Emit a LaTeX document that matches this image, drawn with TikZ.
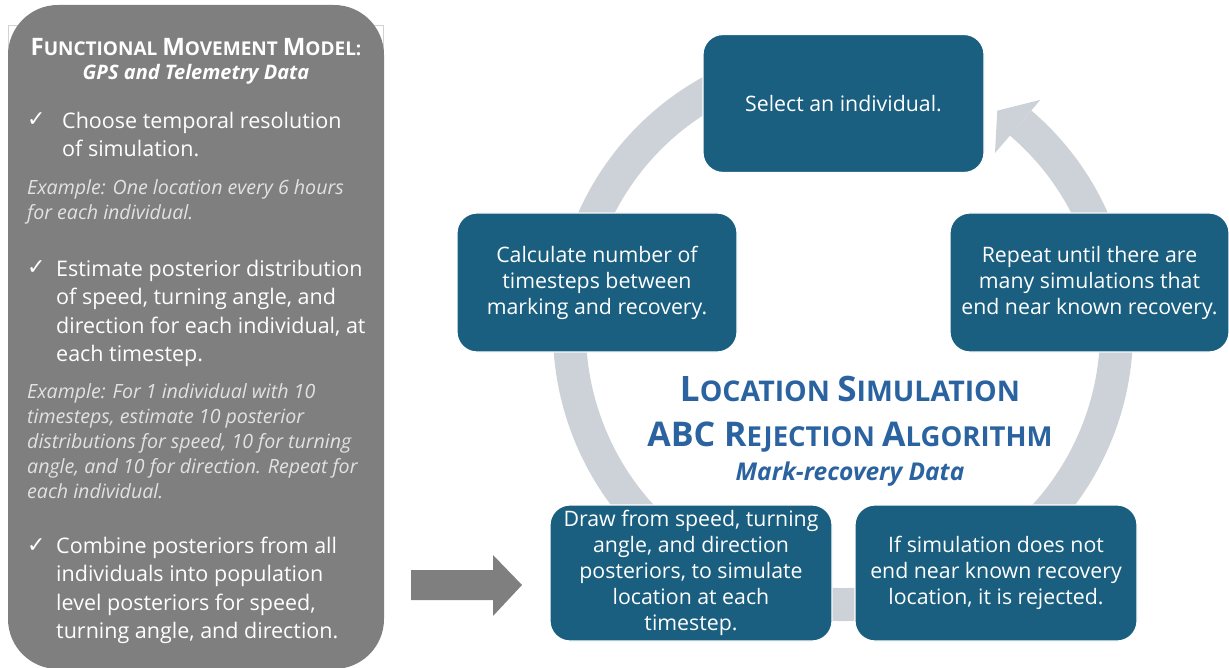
\documentclass[tikz,border=0pt]{standalone}
\usepackage{fontspec}
\setmainfont{Open Sans}
\newfontfamily\symfont{DejaVu Sans}
\usetikzlibrary{positioning}

\definecolor{panelgray}{HTML}{7F7F7F}
\definecolor{ringgray}{HTML}{CDD2D8}
\definecolor{stepblue}{HTML}{1A5F80}
\definecolor{titleblue}{HTML}{2A63A0}
\definecolor{examplegray}{HTML}{E2E2E2}

% big first letter, smaller capitals after it
\newcommand{\scword}[4]{{\fontsize{#1}{#1}\selectfont #3}{\fontsize{#2}{#2}\selectfont #4}}
\newcommand{\tick}{{\symfont\fontsize{22}{22}\selectfont ✓}}

\tikzset{
  stepbox/.style={draw=white, line width=1.2pt, fill=stepblue, rounded corners=20pt,
    text=white, align=center, inner sep=0pt, font=\fontsize{21.3}{26}\selectfont},
  % a strut fixes the first baseline 20pt below the node's top
  item/.style={anchor=north west, inner sep=0pt, align=left, text=white,
    font=\fontsize{21.5}{28.3}\selectfont, execute at begin node={\rule{0pt}{20pt}}},
  example/.style={anchor=north west, inner sep=0pt, align=left, text=examplegray,
    font=\fontsize{19.6}{25.2}\selectfont\itshape, execute at begin node={\rule{0pt}{18pt}}},
  checkmark/.style={anchor=base west, inner sep=0pt, text=white},
  ring/.style={draw=ringgray, line width=33pt},
  heading/.style={text=titleblue, inner sep=0pt, font=\fontsize{28}{28}\selectfont\bfseries},
}

\begin{document}
\begin{tikzpicture}[x=1pt, y=-1pt]
  \useasboundingbox (0,0) rectangle (1229,668);

  % left panel: the movement model
  \draw[gray!35, line width=0.8pt] (8,60) -- (8,25) -- (383,25) -- (383,60);
  \fill[panelgray, rounded corners=50pt] (8,5) rectangle (384,669);

  \node[text=white, inner sep=0pt, font=\fontsize{19}{19}\selectfont\bfseries] (fmm) at (196,47)
    {\scword{24}{19}{F}{UNCTIONAL} \scword{24}{19}{M}{OVEMENT} \scword{24}{19}{M}{ODEL:}};
  \node[text=white, inner sep=0pt, font=\fontsize{20}{20}\selectfont\bfseries\itshape] (gps) at (196,74)
    {GPS and Telemetry Data};

  \node[checkmark] (tick1) at (27,127) {\tick};
  \node[item] (res) at (62,112) {Choose temporal resolution\\of simulation.};
  \node[example] (ex1) at (27,179) {Example: One location every 6 hours\\for each individual.};

  \node[checkmark] (tick2) at (27,275) {\tick};
  \node[item] (post) at (56,260) {Estimate posterior distribution\\of speed, turning angle, and\\direction for each individual, at\\each timestep.};
  \node[example] (ex2) at (27,383) {Example: For 1 individual with 10\\timesteps, estimate 10 posterior\\distributions for speed, 10 for turning\\angle, and 10 for direction. Repeat for\\each individual.};

  \node[checkmark] (tick3) at (27,552) {\tick};
  \node[item] (comb) at (56,537) {Combine posteriors from all\\individuals into population\\level posteriors for speed,\\turning angle, and direction.};

  % block arrow into the cycle
  \fill[panelgray] (411,570) -- (493,570) -- (493,555) -- (522,585)
    -- (493,616) -- (493,600) -- (411,600) -- cycle;

  % cycle ring with its one arrow head
  \coordinate (hub) at (843,331);
  \draw[ring] ([shift={(-62:273.5)}]hub) arc[start angle=-62, end angle=-409.5, radius=273.5];
  \fill[ringgray] ([shift={(-55:269)}]hub) -- ([shift={(-49.5:304)}]hub)
    -- ([shift={(-49.5:234)}]hub) -- cycle;

  % steps
  \node[stepbox, minimum width=281pt, minimum height=138pt] (select) at (843.5,103.5)
    {Select an individual.};
  \node[stepbox, minimum width=280pt, minimum height=139pt] (count) at (597,282.5)
    {Calculate number of\\timesteps between\\marking and recovery.};
  \node[stepbox, minimum width=279pt, minimum height=139pt] (repeat) at (1089.5,282.5)
    {Repeat until there are\\many simulations that\\end near known recovery.};
  \node[stepbox, minimum width=282pt, minimum height=136pt] (sim) at (691,573)
    {Draw from speed, turning\\angle, and direction\\posteriors, to simulate\\location at each\\timestep.};
  \node[stepbox, minimum width=282pt, minimum height=136pt] (reject) at (996,573)
    {If simulation does not\\end near known recovery\\location, it is rejected.};

  % titles inside the ring
  \node[heading] (loc) at (850,389)
    {\scword{35}{28.5}{L}{OCATION} \scword{35}{28.5}{S}{IMULATION}};
  \node[heading] (abc) at (850,437)
    {\scword{34}{27.5}{ABC R}{EJECTION} \scword{34}{27.5}{A}{LGORITHM}};
  \node[heading, font=\fontsize{24.5}{24.5}\selectfont\bfseries\itshape] (mark) at (850,474)
    {Mark-recovery Data};
\end{tikzpicture}
\end{document}
